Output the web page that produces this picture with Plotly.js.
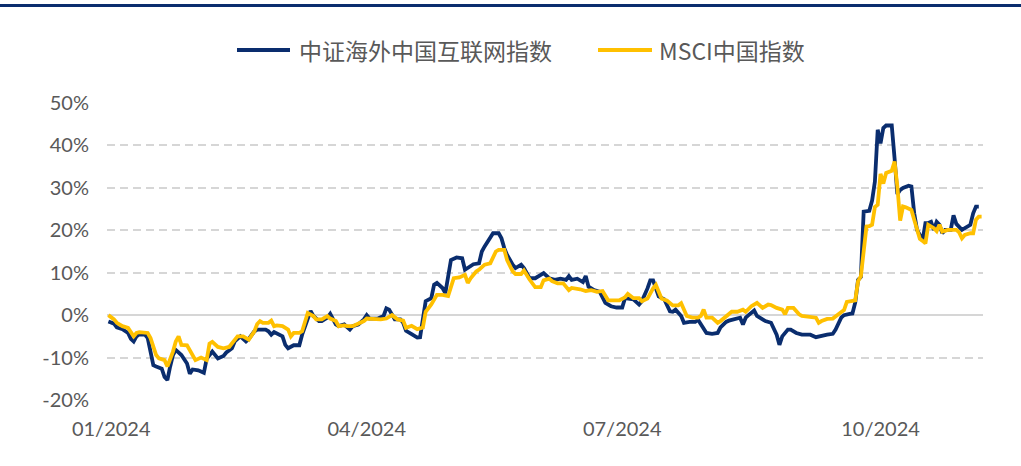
<!DOCTYPE html>
<html>
<head>
<meta charset="utf-8">
<script src="https://cdn.plot.ly/plotly-3.0.1.min.js"></script>
<style>
  html, body { margin: 0; padding: 0; background: #ffffff; }
  #topbar { position: absolute; left: 0; top: 4px; width: 1021px; height: 3px; background: #0A2D6E; }
  #chart { width: 1021px; height: 466px; }
</style>
</head>
<body>
<div id="topbar"></div>
<div id="chart"></div>
<script>
// 中证海外中国互联网指数 (cumulative return, %)
const internetDates = [
  "2023-12-31","2024-01-02","2024-01-03","2024-01-05","2024-01-07","2024-01-08","2024-01-09","2024-01-10","2024-01-11","2024-01-13","2024-01-14",
  "2024-01-16","2024-01-17","2024-01-19","2024-01-20","2024-01-21","2024-01-22","2024-01-23","2024-01-24","2024-01-26","2024-01-28","2024-01-29","2024-01-30",
  "2024-02-01","2024-02-03","2024-02-04","2024-02-06","2024-02-07","2024-02-08","2024-02-10","2024-02-11","2024-02-13","2024-02-14","2024-02-16","2024-02-18","2024-02-19",
  "2024-02-21","2024-02-22","2024-02-25","2024-02-26","2024-02-27","2024-02-28",
  "2024-03-01","2024-03-02","2024-03-03","2024-03-04","2024-03-06","2024-03-08","2024-03-09","2024-03-11","2024-03-12","2024-03-13","2024-03-15","2024-03-16",
  "2024-03-18","2024-03-19","2024-03-21","2024-03-22","2024-03-24","2024-03-26","2024-03-27","2024-03-29","2024-03-31",
  "2024-04-01","2024-04-02","2024-04-05","2024-04-07","2024-04-08","2024-04-09","2024-04-11","2024-04-13","2024-04-14","2024-04-15","2024-04-17","2024-04-19",
  "2024-04-20","2024-04-21","2024-04-22","2024-04-24","2024-04-25","2024-04-26","2024-04-28","2024-04-29","2024-04-30",
  "2024-05-01","2024-05-03","2024-05-05","2024-05-06","2024-05-08","2024-05-09","2024-05-11","2024-05-12","2024-05-13","2024-05-15","2024-05-16","2024-05-18",
  "2024-05-19","2024-05-20","2024-05-21","2024-05-23","2024-05-24","2024-05-26","2024-05-27","2024-05-29","2024-05-31",
  "2024-06-02","2024-06-03","2024-06-05","2024-06-07","2024-06-09","2024-06-11","2024-06-12","2024-06-13","2024-06-15","2024-06-17","2024-06-18","2024-06-19",
  "2024-06-21","2024-06-23","2024-06-25","2024-06-27","2024-06-29",
  "2024-07-01","2024-07-02","2024-07-04","2024-07-05","2024-07-07","2024-07-08","2024-07-10","2024-07-11","2024-07-12","2024-07-13","2024-07-14","2024-07-16",
  "2024-07-18","2024-07-19","2024-07-20","2024-07-22","2024-07-23","2024-07-25","2024-07-27","2024-07-28","2024-07-29","2024-07-31",
  "2024-08-02","2024-08-04","2024-08-05","2024-08-07","2024-08-08","2024-08-10","2024-08-12","2024-08-13","2024-08-14","2024-08-15","2024-08-17","2024-08-18",
  "2024-08-19","2024-08-21","2024-08-23","2024-08-24","2024-08-25","2024-08-26","2024-08-27","2024-08-29","2024-08-30",
  "2024-09-01","2024-09-03","2024-09-05","2024-09-06","2024-09-08","2024-09-10","2024-09-12","2024-09-14","2024-09-15","2024-09-17","2024-09-18","2024-09-20",
  "2024-09-21","2024-09-22","2024-09-23","2024-09-24","2024-09-25","2024-09-27","2024-09-28","2024-09-29","2024-09-30",
  "2024-10-01","2024-10-02","2024-10-03","2024-10-05","2024-10-06","2024-10-07","2024-10-08","2024-10-09","2024-10-11","2024-10-12","2024-10-13","2024-10-14",
  "2024-10-16","2024-10-17","2024-10-18","2024-10-19","2024-10-20","2024-10-21","2024-10-22","2024-10-23","2024-10-24","2024-10-26","2024-10-27","2024-10-28",
  "2024-10-30","2024-11-01","2024-11-02","2024-11-03","2024-11-04","2024-11-05"
];
const internetValues = [
  -1.5,-2.0,-2.9,-3.3,-4.2,-5.6,-6.2,-5.0,-4.5,-4.6,-5.4,
  -11.8,-12.1,-12.6,-14.6,-15.3,-12.1,-9.4,-8.2,-9.4,-11.4,-13.8,-12.8,
  -13.0,-13.6,-10.3,-8.6,-9.4,-10.2,-9.6,-8.8,-7.8,-6.2,-5.0,-6.2,-5.6,
  -3.8,-3.4,-3.4,-3.8,-4.6,-4.0,
  -4.6,-5.0,-7.0,-7.8,-7.1,-7.1,-4.6,-0.6,1.0,-0.2,-1.4,-1.4,
  -0.6,0.3,-2.2,-2.6,-2.2,-3.4,-2.6,-2.2,-1.0,
  0.0,-0.8,-0.8,-0.2,1.6,1.3,-1.0,-1.0,-1.8,-3.7,-4.5,-5.3,
  -5.2,-1.4,3.3,4.0,7.2,7.6,6.4,5.2,8.7,
  13.0,13.6,13.4,10.7,11.5,12.0,12.2,15.0,16.2,18.1,19.3,19.3,
  18.1,15.8,14.2,11.9,11.1,11.9,11.1,8.7,8.7,
  9.5,9.9,8.7,8.3,8.6,8.3,9.2,8.3,8.6,7.8,9.2,6.7,
  5.9,5.5,2.9,2.1,1.8,
  1.8,4.0,3.7,3.7,2.5,3.3,6.3,8.2,8.2,6.3,4.4,3.7,
  0.9,0.8,1.3,-0.2,-1.8,-1.6,-1.6,-1.1,-2.2,-4.2,
  -4.4,-4.2,-2.9,-1.6,-1.3,-1.0,-0.6,-2.2,-0.6,0.0,1.1,-0.2,
  -0.6,-1.4,-1.8,-3.0,-4.6,-7.0,-5.0,-3.4,-3.4,
  -4.2,-4.6,-4.6,-4.6,-5.2,-4.8,-4.6,-4.4,-3.4,-0.6,0.0,0.3,
  0.4,3.0,8.3,9.0,24.4,24.6,27.0,31.5,43.7,
  40.5,44.1,44.7,44.7,37.0,28.5,29.5,30.0,30.5,30.3,24.0,20.1,
  17.7,21.7,21.7,22.0,20.1,22.0,21.3,19.3,20.1,20.1,23.5,21.5,
  20.1,21.0,21.3,24.0,25.6,25.6
];

// MSCI中国指数 (cumulative return, %)
const msciDates = [
  "2023-12-31","2024-01-02","2024-01-03","2024-01-05","2024-01-07","2024-01-09","2024-01-10","2024-01-11","2024-01-14","2024-01-15",
  "2024-01-17","2024-01-18","2024-01-20","2024-01-21","2024-01-23","2024-01-24","2024-01-25","2024-01-26","2024-01-28","2024-01-30","2024-01-31",
  "2024-02-02","2024-02-04","2024-02-05","2024-02-06","2024-02-08","2024-02-10","2024-02-12","2024-02-13","2024-02-15","2024-02-17","2024-02-19",
  "2024-02-21","2024-02-22","2024-02-23","2024-02-24","2024-02-26","2024-02-27","2024-02-28","2024-02-29",
  "2024-03-02","2024-03-04","2024-03-05","2024-03-06","2024-03-08","2024-03-09","2024-03-11","2024-03-13","2024-03-14","2024-03-16","2024-03-18","2024-03-19",
  "2024-03-21","2024-03-22","2024-03-24","2024-03-25","2024-03-27","2024-03-29","2024-03-31",
  "2024-04-01","2024-04-04","2024-04-06","2024-04-08","2024-04-10","2024-04-12","2024-04-14","2024-04-15","2024-04-17","2024-04-19","2024-04-21",
  "2024-04-22","2024-04-24","2024-04-26","2024-04-28","2024-04-30",
  "2024-05-01","2024-05-02","2024-05-04","2024-05-06","2024-05-07","2024-05-08","2024-05-10","2024-05-11","2024-05-13","2024-05-15","2024-05-17","2024-05-18",
  "2024-05-20","2024-05-21","2024-05-23","2024-05-24","2024-05-26","2024-05-27","2024-05-29","2024-05-31",
  "2024-06-02","2024-06-03","2024-06-05","2024-06-06","2024-06-08","2024-06-10","2024-06-12","2024-06-13","2024-06-16","2024-06-18","2024-06-20","2024-06-22",
  "2024-06-24","2024-06-26","2024-06-28","2024-06-30",
  "2024-07-02","2024-07-03","2024-07-05","2024-07-07","2024-07-08","2024-07-10","2024-07-12","2024-07-13","2024-07-14","2024-07-15","2024-07-17","2024-07-19",
  "2024-07-21","2024-07-22","2024-07-24","2024-07-26","2024-07-28","2024-07-29","2024-07-30","2024-07-31",
  "2024-08-02","2024-08-04","2024-08-05","2024-08-07","2024-08-09","2024-08-11","2024-08-13","2024-08-14","2024-08-16","2024-08-18","2024-08-19","2024-08-20",
  "2024-08-22","2024-08-23","2024-08-25","2024-08-27","2024-08-28","2024-08-29","2024-08-31",
  "2024-09-02","2024-09-03","2024-09-06","2024-09-08","2024-09-09","2024-09-10","2024-09-12","2024-09-14","2024-09-16","2024-09-18","2024-09-19","2024-09-21",
  "2024-09-22","2024-09-23","2024-09-24","2024-09-25","2024-09-26","2024-09-27","2024-09-28","2024-09-29","2024-09-30",
  "2024-10-01","2024-10-02","2024-10-03","2024-10-04","2024-10-05","2024-10-06","2024-10-07","2024-10-08","2024-10-09","2024-10-10","2024-10-11","2024-10-12",
  "2024-10-13","2024-10-14","2024-10-15","2024-10-16","2024-10-17","2024-10-18","2024-10-19","2024-10-20","2024-10-21","2024-10-22","2024-10-23","2024-10-24",
  "2024-10-25","2024-10-27","2024-10-28","2024-10-29","2024-10-30","2024-10-31",
  "2024-11-01","2024-11-02","2024-11-03","2024-11-04","2024-11-05","2024-11-06"
];
const msciValues = [
  0.0,-1.0,-1.8,-2.6,-3.0,-5.0,-4.2,-4.0,-4.2,-5.4,
  -9.4,-10.2,-10.6,-12.1,-8.6,-6.2,-5.0,-7.0,-7.1,-9.4,-10.6,
  -10.0,-10.6,-6.7,-6.3,-7.5,-7.8,-7.5,-6.7,-5.0,-5.0,-5.8,
  -3.8,-2.1,-1.4,-1.8,-1.8,-1.3,-2.6,-2.4,
  -2.6,-3.4,-5.0,-4.2,-4.2,-3.8,0.5,-0.2,-1.0,-1.0,-0.2,-0.8,
  -1.4,-2.6,-2.4,-2.6,-2.6,-2.1,-1.4,
  -0.8,-1.0,-1.0,-0.8,0.0,-1.0,-1.3,-3.0,-2.5,-3.3,-2.9,
  0.8,2.5,4.8,4.8,4.5,
  6.4,8.7,8.9,9.5,7.6,8.7,10.3,10.7,11.9,12.2,15.0,15.4,
  15.4,13.0,10.3,9.7,9.7,10.5,8.4,6.6,
  6.6,8.2,8.6,8.0,7.5,7.5,5.9,6.4,6.1,5.7,5.9,5.5,
  5.7,3.5,3.5,3.5,
  4.2,5.0,4.0,4.0,3.3,3.9,6.3,7.1,5.5,3.9,3.4,2.3,
  2.3,2.8,-0.2,-0.6,-0.6,-0.2,1.3,-0.6,
  -0.6,-1.8,-1.4,-0.2,0.8,0.8,1.3,0.8,2.1,2.9,2.4,1.7,
  2.5,2.4,1.7,1.3,0.2,1.7,1.7,
  0.2,-0.2,-0.5,-0.6,-1.8,-1.4,-0.9,-0.8,0.2,1.2,3.1,3.4,
  3.5,8.0,9.2,15.0,20.9,21.0,21.3,25.5,26.0,
  33.3,31.0,33.5,33.8,34.0,36.2,30.3,22.3,25.6,25.4,25.2,24.8,
  22.5,19.8,18.0,17.5,16.9,21.3,20.9,20.5,19.8,21.3,19.7,20.0,
  20.1,20.1,20.1,19.5,18.1,18.9,
  19.2,19.3,19.3,22.5,23.2,23.2
];

const seriesNames = ["中证海外中国互联网指数", "MSCI中国指数"];
const seriesColors = ["#0A2D6E", "#FFC000"];
const tickDates = ["2024-01-01", "2024-04-01", "2024-07-01", "2024-10-01"];
const tickLabels = ["01/2024", "04/2024", "07/2024", "10/2024"];
const yTicks = [-20, -10, 0, 10, 20, 30, 40, 50];
const yTickLabels = ["-20%", "-10%", "0%", "10%", "20%", "30%", "40%", "50%"];

const traces = [
  { x: internetDates, y: internetValues, name: seriesNames[0], type: "scatter", mode: "lines",
    line: { color: seriesColors[0], width: 3.8 } },
  { x: msciDates, y: msciValues, name: seriesNames[1], type: "scatter", mode: "lines",
    line: { color: seriesColors[1], width: 3.8 } }
];

// legend drawn as line samples + text (positions in paper units)
const plotL = 107, plotW = 876, plotB = 400, plotH = 297;
const px = p => (p - plotL) / plotW;
const legY = (plotB - 50) / plotH;
const legendItems = [
  { x0: 237, x1: 290, tx: 297 },
  { x0: 598, x1: 652, tx: 657 }
];
const shapes = legendItems.map((it, i) => ({
  type: "line", xref: "paper", yref: "paper",
  x0: px(it.x0), x1: px(it.x1), y0: legY, y1: legY,
  line: { color: seriesColors[i], width: 4 }
}));
const annotations = legendItems.map((it, i) => ({
  xref: "paper", yref: "paper", x: px(it.tx), y: legY,
  xanchor: "left", yanchor: "middle", showarrow: false,
  text: seriesNames[i],
  font: { size: 23, color: "#595959", family: "'Noto Sans CJK SC', sans-serif" }
}));

const layout = {
  width: 1021, height: 466,
  paper_bgcolor: "rgba(0,0,0,0)", plot_bgcolor: "rgba(0,0,0,0)",
  margin: { l: plotL, r: 1021 - plotL - plotW, t: plotB - plotH, b: 466 - plotB },
  font: { family: "'Noto Sans CJK SC', 'Liberation Sans', sans-serif", color: "#595959" },
  showlegend: false,
  shapes: shapes,
  annotations: annotations,
  xaxis: {
    type: "date",
    range: ["2023-12-30 12:00", "2024-11-06 12:00"],
    tickmode: "array", tickvals: tickDates, ticktext: tickLabels,
    showgrid: false, zeroline: false, showline: false, ticks: "",
    ticklabelstandoff: 15,
    tickfont: { size: 20, color: "#595959", family: "Lato, 'Liberation Sans', sans-serif" },
    fixedrange: true
  },
  yaxis: {
    range: [-20, 50],
    tickmode: "array", tickvals: yTicks, ticktext: yTickLabels,
    showgrid: true, gridcolor: "#D6D6D6", gridwidth: 2, griddash: "8px,5px",
    zeroline: true, zerolinecolor: "#D6D6D6", zerolinewidth: 2,
    showline: false, ticks: "",
    ticklabelstandoff: 17,
    tickfont: { size: 20, color: "#595959", family: "Lato, 'Liberation Sans', sans-serif" },
    fixedrange: true
  }
};

Plotly.newPlot("chart", traces, layout, { staticPlot: true, displayModeBar: false });
</script>
</body>
</html>
